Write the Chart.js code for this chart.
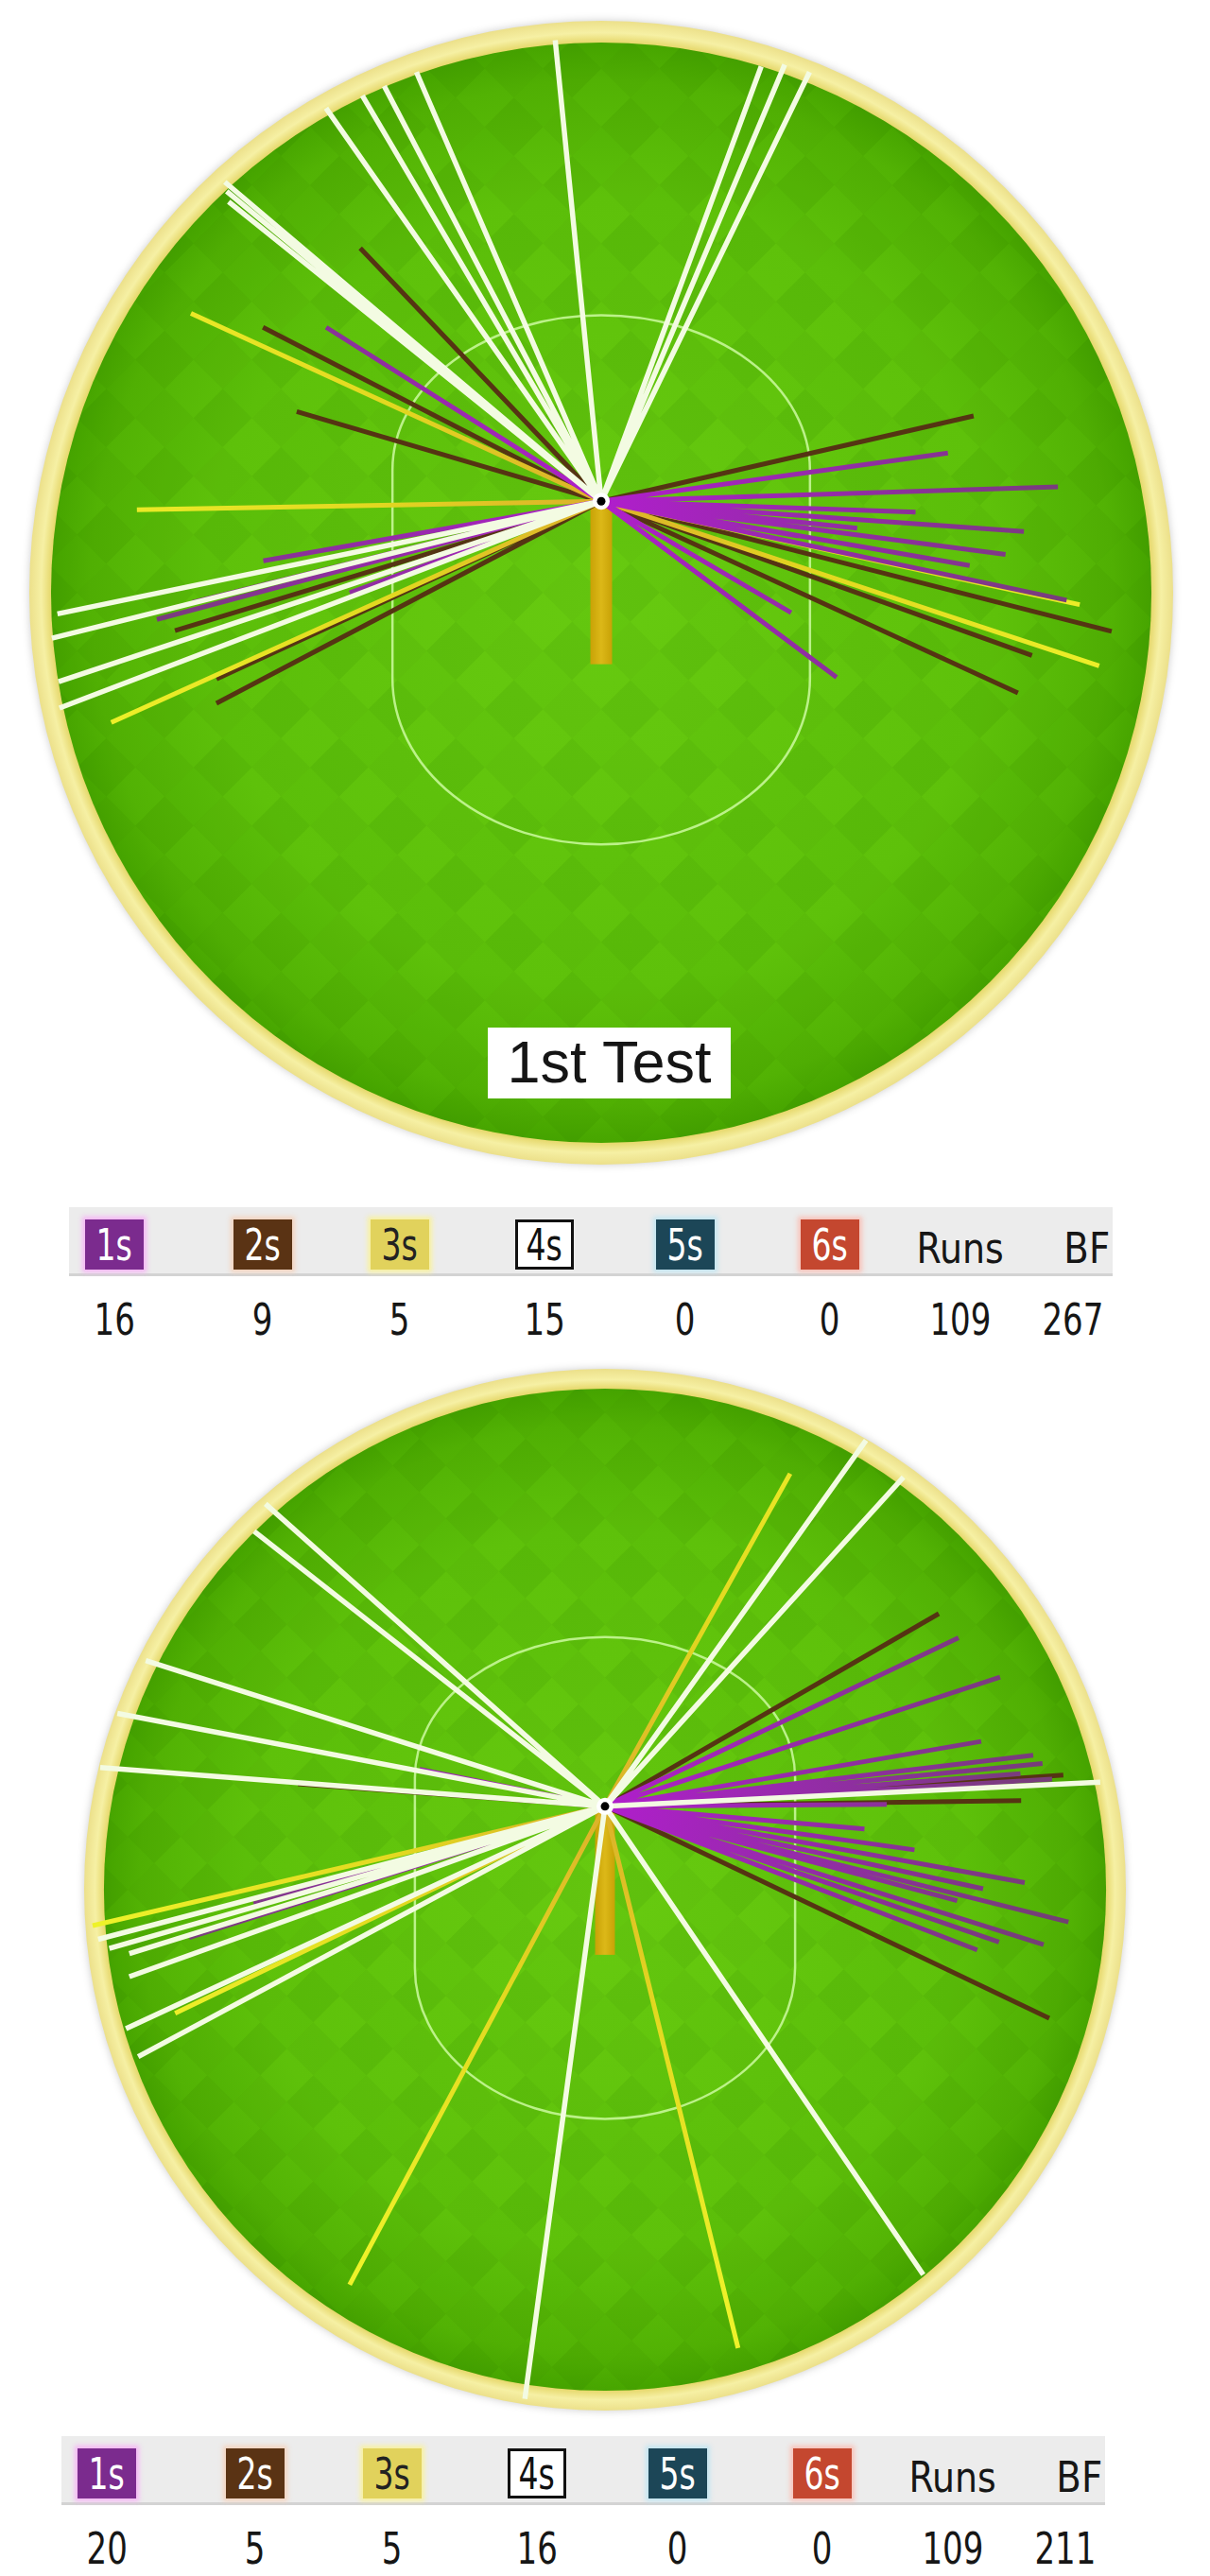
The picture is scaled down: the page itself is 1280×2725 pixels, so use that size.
<!DOCTYPE html>
<html>
<head>
<meta charset="utf-8">
<title>Wagon wheels - 1st Test / 2nd innings</title>
<script src="https://cdn.jsdelivr.net/npm/chart.js@4.4.1/dist/chart.umd.min.js"></script>
<style>
  html, body { margin: 0; padding: 0; background: #fff; }
  #page { position: relative; width: 1280px; height: 2725px; overflow: hidden; }
  .wheel { position: absolute; left: 0; width: 1280px; }
  .title {
    position: absolute; left: 516px; top: 1087px; width: 257px; height: 75px;
    background: #fff; color: #151515; text-align: center; line-height: 76px;
    font: 63px "Liberation Sans", Arial, sans-serif;
  }
  .band { position: absolute; width: 1104px; height: 70px; background: #ececec; border-bottom: 3px solid #d3d3d3; }
  .icon {
    position: absolute; width: 62px; height: 53px; box-sizing: border-box;
    display: flex; align-items: center; justify-content: center;
    font: 46px "DejaVu Sans", Verdana, sans-serif;
  }
  .txt { position: absolute; width: 200px; text-align: center; font-family: "DejaVu Sans", Verdana, sans-serif; color: #161616; }
  .txt span, .icon span { display: inline-block; }
</style>
</head>
<body>
<div id="page">
  <div class="wheel" style="top:0;height:1260px"><canvas id="wheel1"></canvas></div>
  <div class="title">1st Test</div>
  <div class="wheel" style="top:1430px;height:1140px"><canvas id="wheel2"></canvas></div>
</div>
<script>
// shots: [direction in degrees clockwise from straight up, distance in boundary radii]
const test1Ones = [[-57.7, 0.569], [-104.9, 0.804], [-103.9, 0.736], [-110.0, 0.468], [-100, 0.60],
                   [82.1, 0.612], [88.2, 0.799], [94.1, 0.741], [97.5, 0.713], [99.9, 0.654],
                   [102.0, 0.832], [126.8, 0.514], [120.4, 0.385], [92, 0.55], [96, 0.45], [100, 0.35]];
const test1Twos = [[-43.6, 0.611], [-62.8, 0.665], [-73.6, 0.555], [-106.9, 0.779], [-117.7, 0.76],
                   [-114.8, 0.741], [77.1, 0.668], [104.3, 0.921], [109.7, 0.80], [114.7, 0.802]];
const test1Threes = [[-65.4, 0.789], [-91.05, 0.812], [-114.3, 0.94], [102.2, 0.856], [108.3, 0.917]];
const test1Fours = [[-5.7, 0.81], [-23.3, 0.817], [-27.6, 0.819], [-30.5, 0.823], [-35.0, 0.839],
                    [-49.7, 0.863], [-51.2, 0.836], [-50.4, 0.85], [-101.7, 0.971], [-108.4, 1.0],
                    [-110.9, 1.014], [-104, 0.99], [20.2, 0.81], [22.8, 0.828], [25.9, 0.834]];

const test2Ones = [[-78.7, 0.363], [-107.5, 0.837], [-105.5, 0.70], [64.5, 0.752], [71.9, 0.798],
                   [80.2, 0.733], [83.2, 0.828], [84.4, 0.844], [85.5, 0.80], [86.5, 0.86],
                   [89.6, 0.541], [95, 0.5], [98, 0.6], [100.3, 0.819], [102.3, 0.743],
                   [104.0, 0.917], [105, 0.7], [107.5, 0.883], [109, 0.8], [111.1, 0.766]];
const test2Twos = [[-85.8, 0.591], [60.0, 0.74], [86.1, 0.882], [89.2, 0.799], [115.5, 0.945]];
const test2Threes = [[29.1, 0.731], [-103.1, 1.01], [-115.7, 0.916], [-151.9, 1.041], [166.2, 1.071]];
const test2Fours = [[-48.3, 0.873], [-51.9, 0.856], [-72.4, 0.925], [-79.2, 0.953], [-85.6, 0.972],
                    [-104.7, 1.006], [-106, 0.99], [-107.2, 0.956], [-109.7, 0.97], [-114.9, 1.014],
                    [-118.2, 1.017], [-172.3, 1.148], [35.5, 0.863], [42.2, 0.853], [87.2, 0.952],
                    [145.8, 1.087]];

const legendLabels = ['1s', '2s', '3s', '4s', '5s', '6s'];
const test1Counts = [16, 9, 5, 15, 0, 0];
const test1Runs = 109;
const test1Balls = 267;
const test2Counts = [20, 5, 5, 16, 0, 0];
const test2Runs = 109;
const test2Balls = 211;

// striker's end, in boundary radii from the middle of the ground
const BAT_X = 0;
const BAT_Y = 0.16;

function shotSegments(shots) {
    const pts = [];
    shots.forEach(([deg, dist]) => {
        const a = deg * Math.PI / 180;
        pts.push({ x: BAT_X, y: BAT_Y });
        pts.push({ x: BAT_X + dist * Math.sin(a), y: BAT_Y + dist * Math.cos(a) });
        pts.push({ x: null, y: null });
    });
    return pts;
}

function radialStroke(stops, fallback) {
    return function (context) {
        const chart = context.chart;
        if (!chart.chartArea || !chart.scales.x) return fallback;
        const { x, y } = chart.scales;
        const bx = x.getPixelForValue(BAT_X), by = y.getPixelForValue(BAT_Y);
        const r = x.getPixelForValue(1) - x.getPixelForValue(0);
        const g = chart.ctx.createRadialGradient(bx, by, 0, bx, by, r);
        stops.forEach(([p, c]) => g.addColorStop(p, c));
        return g;
    };
}

const fieldPlugin = {
    id: 'field',
    beforeDatasetsDraw(chart) {
        const { ctx, scales: { x, y } } = chart;
        const cx = x.getPixelForValue(0), cy = y.getPixelForValue(0);
        const r = x.getPixelForValue(1) - cx;
        const px = v => x.getPixelForValue(v), py = v => y.getPixelForValue(v);
        const gr = r * 0.962;

        ctx.save();
        // boundary rope
        ctx.shadowColor = 'rgba(0,0,0,0.2)';
        ctx.shadowBlur = 9;
        ctx.beginPath();
        ctx.arc(cx, cy, r, 0, Math.PI * 2);
        const ring = ctx.createRadialGradient(cx, cy, gr, cx, cy, r);
        ring.addColorStop(0, '#e6d86c');
        ring.addColorStop(0.45, '#f6f0a4');
        ring.addColorStop(1, '#ece08a');
        ctx.fillStyle = ring;
        ctx.fill();
        ctx.shadowColor = 'transparent';

        // grass
        ctx.beginPath();
        ctx.arc(cx, cy, gr, 0, Math.PI * 2);
        const grass = ctx.createRadialGradient(cx, cy, 0, cx, cy, gr);
        grass.addColorStop(0, '#67ca10');
        grass.addColorStop(0.72, '#5ec10a');
        grass.addColorStop(0.93, '#52b204');
        grass.addColorStop(1, '#47a500');
        ctx.fillStyle = grass;
        ctx.fill();

        // mowing pattern
        ctx.save();
        ctx.clip();
        ctx.translate(cx, cy);
        ctx.rotate(Math.PI / 4);
        const s = r * 0.072;
        ctx.fillStyle = 'rgba(20,80,0,0.045)';
        for (let i = -16; i <= 16; i++) {
            for (let j = -16; j <= 16; j++) {
                if ((i + j) & 1) ctx.fillRect(i * s, j * s, s, s);
            }
        }
        ctx.fillStyle = 'rgba(20,80,0,0.025)';
        for (let i = -16; i <= 16; i += 2) ctx.fillRect(i * s, -20 * s, s, 40 * s);
        ctx.restore();

        // inner ring
        const hw = 0.365, topC = 0.215, botC = -0.15;
        ctx.beginPath();
        ctx.ellipse(cx, py(topC), px(hw) - cx, py(topC) - py(0.485), 0, Math.PI, Math.PI * 2);
        ctx.lineTo(px(hw), py(botC));
        ctx.ellipse(cx, py(botC), px(hw) - cx, py(-0.44) - py(botC), 0, 0, Math.PI);
        ctx.closePath();
        ctx.strokeStyle = 'rgba(205,250,160,0.85)';
        ctx.lineWidth = 2.5;
        ctx.stroke();

        // pitch
        const pl = px(-0.019), pr = px(0.019);
        const pitch = ctx.createLinearGradient(pl, 0, pr, 0);
        pitch.addColorStop(0, '#c8a206');
        pitch.addColorStop(0.5, '#dcb818');
        pitch.addColorStop(1, '#c8a206');
        ctx.fillStyle = pitch;
        ctx.fillRect(pl, py(BAT_Y), pr - pl, py(-0.125) - py(BAT_Y));
        ctx.restore();
    },
    afterDatasetsDraw(chart) {
        const { ctx, scales: { x, y } } = chart;
        const bx = x.getPixelForValue(BAT_X), by = y.getPixelForValue(BAT_Y);
        ctx.save();
        ctx.beginPath();
        ctx.arc(bx, by, 9, 0, Math.PI * 2);
        ctx.fillStyle = '#ffffff';
        ctx.fill();
        ctx.beginPath();
        ctx.arc(bx, by, 4.5, 0, Math.PI * 2);
        ctx.fillStyle = '#000000';
        ctx.fill();
        ctx.restore();
    }
};

function createWheel(id, width, height, cxPx, cyPx, radiusPx, ones, twos, threes, fours) {
    const line = (label, data, color, w) => ({
        label: label, data: shotSegments(data), showLine: true,
        borderColor: color, borderWidth: w, pointRadius: 0, pointHoverRadius: 0,
        spanGaps: false, borderCapStyle: 'butt'
    });
    const canvas = document.getElementById(id);
    return new Chart(canvas, {
        type: 'scatter',
        data: {
            datasets: [
                line('4s', fours, '#f3fbe2', 5.5),
                line('1s', ones, radialStroke([[0, '#b01ecc'], [0.45, '#902ea2'], [1, '#6c4468']], '#8d2aa0'), 5),
                line('3s', threes, radialStroke([[0, '#dcb02a'], [0.4, '#e2d820'], [1, '#eef22a']], '#e5e817'), 5),
                line('2s', twos, '#553413', 5)
            ]
        },
        options: {
            responsive: true,
            maintainAspectRatio: false,
            animation: false,
            events: [],
            layout: { padding: 0 },
            plugins: { legend: { display: false }, tooltip: { enabled: false }, title: { display: false } },
            scales: {
                x: { type: 'linear', display: false, min: -cxPx / radiusPx, max: (width - cxPx) / radiusPx },
                y: { type: 'linear', display: false, min: -(height - cyPx) / radiusPx, max: cyPx / radiusPx }
            }
        },
        plugins: [fieldPlugin]
    });
}

createWheel('wheel1', 1280, 1260, 636, 627, 605, test1Ones, test1Twos, test1Threes, test1Fours);
createWheel('wheel2', 1280, 1140, 640, 569, 551, test2Ones, test2Twos, test2Threes, test2Fours);

// score strip under each wheel
const ICON_STYLE = [
    { bg: '#7b2b8e', fg: '#fff', glow: 'rgba(246,175,246,0.9)' },
    { bg: '#5a3314', fg: '#fff', glow: 'rgba(245,208,185,0.9)' },
    { bg: '#e1d25c', fg: '#222', glow: 'rgba(250,242,150,0.9)' },
    { bg: '#ffffff', fg: '#111', glow: null, border: '3px solid #111' },
    { bg: '#1c4657', fg: '#fff', glow: 'rgba(190,228,242,0.9)' },
    { bg: '#c4472f', fg: '#fff', glow: 'rgba(250,188,178,0.9)' }
];
const COL_X = [48, 205, 350, 503, 652, 805];
const RUNS_X = 943, BF_X = 1077, BF_VAL_X = 1062;

function textAt(parent, cx, cy, text, size, squeeze) {
    const d = document.createElement('div');
    d.className = 'txt';
    d.style.left = (cx - 100) + 'px';
    d.style.top = (cy - size / 2) + 'px';
    d.style.fontSize = size + 'px';
    d.style.lineHeight = size + 'px';
    d.innerHTML = '<span style="transform:scaleX(' + squeeze + ')">' + text + '</span>';
    parent.appendChild(d);
}

function buildLegend(left, top, counts, runs, balls) {
    const page = document.getElementById('page');
    const band = document.createElement('div');
    band.className = 'band';
    band.style.left = left + 'px';
    band.style.top = top + 'px';
    page.appendChild(band);

    legendLabels.forEach((lab, k) => {
        const st = ICON_STYLE[k];
        const ic = document.createElement('div');
        ic.className = 'icon';
        ic.style.left = (left + COL_X[k] - 31) + 'px';
        ic.style.top = (top + 13) + 'px';
        ic.style.background = st.bg;
        ic.style.color = st.fg;
        if (st.border) ic.style.border = st.border;
        if (st.glow) ic.style.boxShadow = '0 0 5px 3px ' + st.glow;
        ic.innerHTML = '<span style="transform:scaleX(0.72)">' + lab + '</span>';
        page.appendChild(ic);
        textAt(page, left + COL_X[k], top + 119, String(counts[k]), 46, 0.74);
    });
    textAt(page, left + RUNS_X, top + 44, 'Runs', 44, 0.86);
    textAt(page, left + BF_X, top + 44, 'BF', 44, 0.88);
    textAt(page, left + RUNS_X, top + 119, String(runs), 46, 0.74);
    textAt(page, left + BF_VAL_X, top + 119, String(balls), 46, 0.74);
}

buildLegend(73, 1277, test1Counts, test1Runs, test1Balls);
buildLegend(65, 2577, test2Counts, test2Runs, test2Balls);
</script>
</body>
</html>
